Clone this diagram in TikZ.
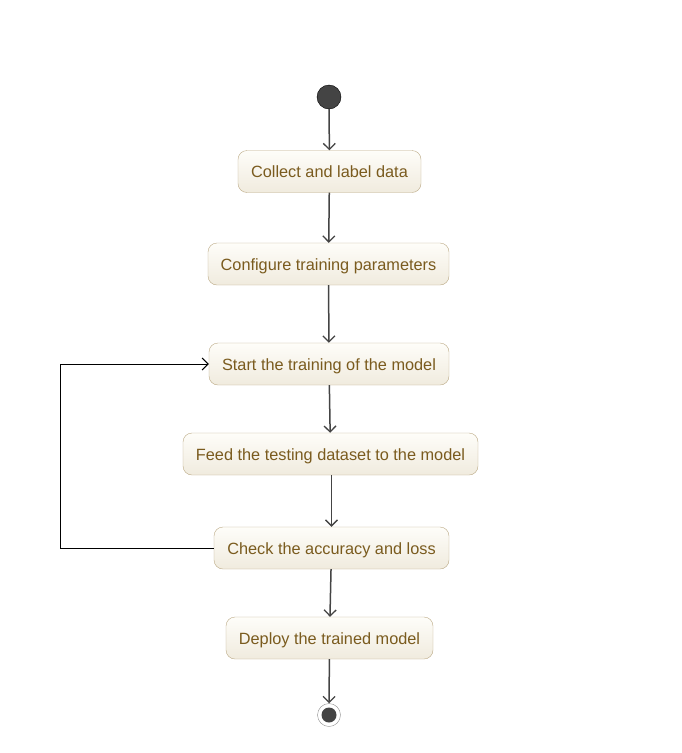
\documentclass[tikz,border=0pt]{standalone}
\usepackage{fontspec}
\setmainfont{Liberation Sans}
\usetikzlibrary{arrows.meta,shapes,positioning}
\definecolor{actborder}{HTML}{BBA985}
\definecolor{acttext}{HTML}{7A5B1E}
\definecolor{acttop}{HTML}{FEFDF9}
\definecolor{actbot}{HTML}{F0EBDE}
\definecolor{flowgrey}{HTML}{444444}

\tikzset{
  activity/.style={draw=actborder, top color=acttop, bottom color=actbot,
    rounded corners=9pt, minimum height=42pt, inner xsep=0pt,
    text height=13.5pt, text depth=1.5pt,
    text=acttext, font=\fontsize{16.3}{19}\selectfont},
  flow/.style={draw=flowgrey, line width=1.5pt, -{Straight Barb[length=6pt,width=12pt,line width=1.3pt]}},
  back/.style={draw=black, line width=1pt, -{Straight Barb[length=6pt,width=12pt,line width=1pt]}}
}

\begin{document}
\begin{tikzpicture}[x=1pt,y=-1pt]
\useasboundingbox (0,0) rectangle (682,753);

% start / end
\node [circle, draw=black, fill=flowgrey, minimum size=24pt, inner sep=0pt] (start) at (329,97) {};
\node [circle, draw=flowgrey!60, fill=white, minimum size=23pt, inner sep=0pt] (stop) at (329,715) {};
\node [circle, fill=flowgrey, minimum size=15pt, inner sep=0pt] at (stop) {};

% activities
\node [activity, minimum width=183pt] (collect) at (329.5,171.5) {Collect and label data};
\node [activity, minimum width=241pt] (config) at (328.5,264) {Configure training parameters};
\node [activity, minimum width=240pt] (train) at (329,364) {Start the training of the model};
\node [activity, minimum width=295pt] (feed) at (330.5,454) {Feed the testing dataset to the model};
\node [activity, minimum width=235pt] (check) at (331.5,548) {Check the accuracy and loss};
\node [activity, minimum width=207pt] (deploy) at (329.5,638) {Deploy the trained model};

% flow
\draw [flow] (start) -- (collect);
\draw [flow] (collect) -- (config);
\draw [flow] (config) -- (train);
\draw [flow] (train) -- (feed);
\draw [flow] (check.north |- feed.south) -- (check.north);
\draw [flow] (check) -- (deploy);
\draw [flow] (deploy) -- (stop);

% loop back
\draw [back] (check.west) -- ++(-153,0) |- (train.west);
\end{tikzpicture}
\end{document}
